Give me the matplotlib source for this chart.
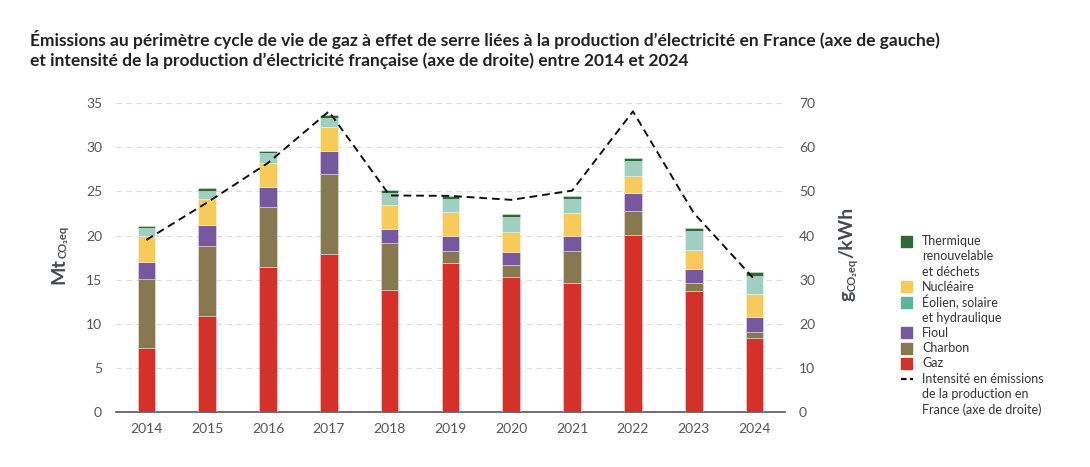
import matplotlib.pyplot as plt
from matplotlib.patches import Rectangle
from matplotlib.lines import Line2D
import numpy as np

plt.rcParams['font.family'] = ['Lato', 'DejaVu Sans']

years = ['2014', '2015', '2016', '2017', '2018', '2019', '2020', '2021', '2022', '2023', '2024']

# Mt CO2eq, by source (stacked bottom to top)
gaz = [7.2, 10.8, 16.45, 17.85, 13.85, 16.85, 15.3, 14.65, 20.05, 13.75, 8.3]
charbon = [7.85, 8.05, 6.8, 9.15, 5.3, 1.35, 1.35, 3.6, 2.75, 0.8, 0.75]
fioul = [1.95, 2.35, 2.3, 2.65, 1.6, 1.8, 1.5, 1.75, 2.05, 1.6, 1.65]
nucleaire = [3.0, 2.9, 2.7, 2.65, 2.7, 2.7, 2.3, 2.5, 1.95, 2.25, 2.6]
eolien = [0.9, 1.0, 1.15, 1.05, 1.35, 1.4, 1.65, 1.6, 1.65, 2.1, 2.1]
thermique = [0.2, 0.3, 0.25, 0.35, 0.4, 0.4, 0.35, 0.4, 0.4, 0.4, 0.4]

# g CO2eq / kWh (right axis)
intensite = [39, 47.5, 56.5, 68.2, 49.1, 49.0, 48.1, 50.2, 68.2, 45.1, 30.0]

series = [
    (gaz, '#d3312a'),
    (charbon, '#877850'),
    (fioul, '#75589d'),
    (nucleaire, '#f6ca5b'),
    (eolien, '#9ecfc1'),
    (thermique, '#2e6a36'),
]

W, H = 1090, 467
fig = plt.figure(figsize=(10.9, 4.67), dpi=100)
ax = fig.add_axes([0.1064, 0.1188, 0.6138, 0.6596])
ax2 = ax.twinx()

x = np.arange(len(years))
bottom = np.zeros(len(years))
for vals, col in series:
    ax.bar(x, vals, 0.29, bottom=bottom, color=col, edgecolor=(1, 1, 1, 0.5), linewidth=0.5, zorder=3)
    bottom += np.array(vals)

ax2.plot(x, intensite, color='#111111', linestyle=(0, (4, 2.5)), linewidth=1.4, zorder=4)

ax.set_xlim(-0.5, 10.5)
ax.set_ylim(0, 35)
ax2.set_ylim(0, 70)
ax.set_xticks(x)
ax.set_xticklabels(years)
ax.set_yticks(range(0, 36, 5))
ax2.set_yticks(range(0, 71, 10))

ax.grid(axis='y', color='#dddddd', linestyle=(0, (5, 4)), linewidth=0.8, zorder=0)
for a in (ax, ax2):
    for s in ['top', 'left', 'right']:
        a.spines[s].set_visible(False)
    a.tick_params(length=0, labelsize=10, labelcolor='#555555')
ax2.spines['bottom'].set_visible(False)
ax.spines['bottom'].set_color('#555555')
ax.spines['bottom'].set_linewidth(1.2)
ax.tick_params(axis='y', pad=10)
ax.tick_params(axis='x', pad=8)
ax2.tick_params(axis='y', pad=10)

# vertical axis titles with bold subscripts, built piece by piece
renderer = fig.canvas.get_renderer()


def vlabel(xbase, ystart, parts):
    yd = H - ystart
    for txt, size, dx in parts:
        t = fig.text((xbase + dx) / W, yd / H, txt, rotation=90, rotation_mode='anchor',
                     ha='left', va='baseline', fontsize=size, fontweight='bold', color='#444b55')
        yd = t.get_window_extent(renderer).y1


vlabel(64, 284, [('Mt', 14, 0), ('CO₂eq', 8, 3)])
vlabel(852, 301, [('g', 14, 0), ('CO₂eq', 8, 4), ('/kWh', 14, 0)])

fig.text(0.0275, 0.915, "Émissions au périmètre cycle de vie de gaz à effet de serre liées à la production d’électricité en France (axe de gauche)",
         fontsize=12.5, fontweight='bold', color='#222222', va='center')
fig.text(0.0275, 0.871, "et intensité de la production d’électricité française (axe de droite) entre 2014 et 2024",
         fontsize=12.5, fontweight='bold', color='#222222', va='center')

# legend
leg_items = [
    ('#2e6a36', ['Thermique', 'renouvelable', 'et déchets']),
    ('#f6ca5b', ['Nucléaire']),
    ('#5db39b', ['Éolien, solaire', 'et hydraulique']),
    ('#75589d', ['Fioul']),
    ('#877850', ['Charbon']),
    ('#d3312a', ['Gaz']),
    (None, ['Intensité en émissions', 'de la production en', 'France (axe de droite)']),
]
ypix = 241
step = 15.3
for col, lines in leg_items:
    if col is None:
        fig.add_artist(Line2D([901 / W, 913 / W], [1 - ypix / H, 1 - ypix / H], color='#111111',
                              linestyle=(0, (2.5, 1.5)), linewidth=1.6))
    else:
        fig.add_artist(Rectangle((901 / W, 1 - (ypix + 5.5) / H), 11 / W, 11 / H, color=col, transform=fig.transFigure))
    for line in lines:
        fig.text(922 / W, 1 - ypix / H, line, fontsize=9, color='#333333', va='center')
        ypix += step

fig.savefig('out.png', dpi=100)
